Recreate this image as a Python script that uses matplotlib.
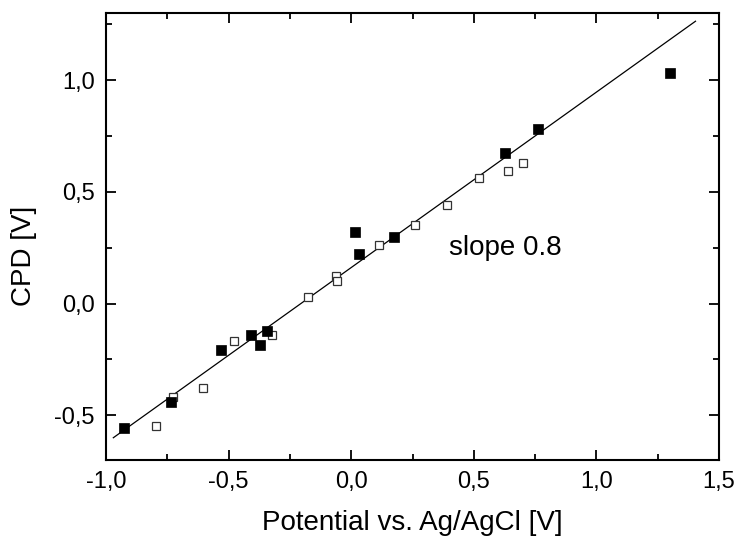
import matplotlib
matplotlib.use("Agg")
import matplotlib.pyplot as plt
from matplotlib.ticker import MultipleLocator, FuncFormatter
import numpy as np

plt.rcParams['font.family'] = ['Liberation Sans', 'DejaVu Sans']

# filled squares
filled_x = [-0.927, -0.735, -0.531, -0.409, -0.371, -0.344, 0.0135, 0.030, 0.173, 0.626, 0.760, 1.299]
filled_y = [-0.557, -0.441, -0.208, -0.140, -0.1875, -0.124, 0.321, 0.222, 0.298, 0.673, 0.780, 1.030]

# open squares
open_x = [-0.796, -0.725, -0.603, -0.478, -0.325, -0.178, -0.061, -0.058, 0.114, 0.260, 0.392, 0.520, 0.638, 0.701]
open_y = [-0.548, -0.417, -0.376, -0.168, -0.140, 0.031, 0.122, 0.0996, 0.262, 0.353, 0.443, 0.561, 0.591, 0.631]

# fitted line
fit_slope = 0.785
fit_intercept = 0.161
fit_x = [-0.97, 1.404]

fig = plt.figure(figsize=(7.39, 5.39), dpi=100)
ax = fig.add_axes([0.1434, 0.1466, 0.9730 - 0.1434, 0.9759 - 0.1466])

fx = np.array(fit_x)
ax.plot(fx, fit_slope * fx + fit_intercept, color='black', lw=0.9, zorder=2)

ax.plot(open_x, open_y, linestyle='none', marker='s', markersize=6.3,
        markerfacecolor='white', markeredgecolor='#333333', markeredgewidth=0.9, zorder=3)
ax.plot(filled_x, filled_y, linestyle='none', marker='s', markersize=7.8,
        markerfacecolor='black', markeredgecolor='black', markeredgewidth=0.5, zorder=4)

ax.set_xlim(-1.0, 1.5)
ax.set_ylim(-0.7, 1.3)

ax.xaxis.set_major_locator(MultipleLocator(0.5))
ax.xaxis.set_minor_locator(MultipleLocator(0.25))
ax.yaxis.set_major_locator(MultipleLocator(0.5))
ax.yaxis.set_minor_locator(MultipleLocator(0.25))

fmt = FuncFormatter(lambda v, p: ("%.1f" % v).replace('.', ',').replace('-0,0', '0,0'))
ax.xaxis.set_major_formatter(fmt)
ax.yaxis.set_major_formatter(fmt)

for s in ax.spines.values():
    s.set_linewidth(1.5)

ax.tick_params(which='both', direction='in', top=True, right=True, width=1.3, labelsize=17)
ax.tick_params(which='major', length=7, pad=8)
ax.tick_params(which='minor', length=4)

ax.set_xlabel('Potential vs. Ag/AgCl [V]', fontsize=20, labelpad=12)
ax.set_ylabel('CPD [V]', fontsize=20)
ax.yaxis.set_label_coords(-0.112, 0.456)

ax.text(0.397, 0.248, 'slope 0.8', fontsize=20, ha='left', va='center')

fig.savefig('out.png', dpi=100)
